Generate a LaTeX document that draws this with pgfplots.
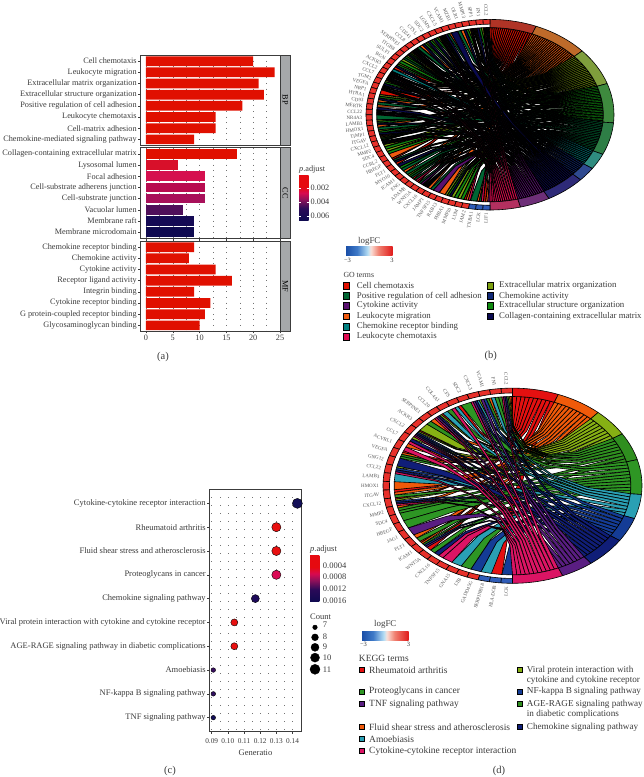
\documentclass[border=0pt]{standalone}
\usepackage{pgfplots}
\pgfplotsset{compat=1.18}
\usepackage{fontspec}
\setmainfont{Liberation Serif}

\definecolor{txt}{HTML}{3A3A3A}
\definecolor{frm}{HTML}{3C3C3C}
\definecolor{strip}{HTML}{A6A8AA}
% term colours: ribbons and outer ring, panel (b)
\definecolor{bt1}{HTML}{E01000}\definecolor{bt2}{HTML}{F05A10}\definecolor{bt3}{HTML}{7DA010}
\definecolor{bt4}{HTML}{108A10}\definecolor{bt5}{HTML}{006633}\definecolor{bt6}{HTML}{008080}
\definecolor{bt7}{HTML}{102878}\definecolor{bt8}{HTML}{0A0A50}\definecolor{bt9}{HTML}{5A1070}
\definecolor{bt10}{HTML}{E00A50}
\definecolor{br1}{HTML}{B03426}\definecolor{br2}{HTML}{BE6A2A}\definecolor{br3}{HTML}{7F9E3C}
\definecolor{br4}{HTML}{3E8A3E}\definecolor{br5}{HTML}{2E7E46}\definecolor{br6}{HTML}{2F8C80}
\definecolor{br7}{HTML}{2F4A90}\definecolor{br8}{HTML}{2E2A78}\definecolor{br9}{HTML}{6E2F78}
\definecolor{br10}{HTML}{B3305F}
% panel (d)
\definecolor{dt1}{HTML}{E51010}\definecolor{dt2}{HTML}{F05A0A}\definecolor{dt3}{HTML}{86B014}
\definecolor{dt4}{HTML}{2F8F1F}\definecolor{dt5}{HTML}{2E9624}\definecolor{dt6}{HTML}{2AA0B4}
\definecolor{dt7}{HTML}{143C96}\definecolor{dt8}{HTML}{101E78}\definecolor{dt9}{HTML}{5A1E82}
\definecolor{dt10}{HTML}{DC1464}
\definecolor{geneup}{HTML}{E8302A}\definecolor{genedn}{HTML}{2F5CB8}
% colour bars
\definecolor{pa1}{HTML}{0F0A50}\definecolor{pa2}{HTML}{2A0A58}\definecolor{pa3}{HTML}{90105A}
\definecolor{pa4}{HTML}{D80A50}\definecolor{pa5}{HTML}{E60A10}
\definecolor{fc1}{HTML}{1A4FA8}\definecolor{fc2}{HTML}{3F7AC8}\definecolor{fc3}{HTML}{B8E0F5}
\definecolor{fc4}{HTML}{FBE0D8}\definecolor{fc5}{HTML}{F08070}\definecolor{fc6}{HTML}{E01A1A}

% tikz fits the middle 25-75bp of a shading to the path
\pgfdeclareverticalshading{padj}{100bp}{color(0bp)=(pa1);color(25bp)=(pa1);color(38bp)=(pa2);
  color(48bp)=(pa3);color(55bp)=(pa4);color(62bp)=(pa5);color(100bp)=(pa5)}
\pgfdeclarehorizontalshading{logfc}{100bp}{color(0bp)=(fc1);color(25bp)=(fc1);color(37bp)=(fc2);
  color(48.5bp)=(fc3);color(51.5bp)=(fc4);color(60bp)=(fc5);color(75bp)=(fc6);color(100bp)=(fc6)}

\newcommand\fa{\fontsize{8.25}{9}\selectfont}
\newcommand\fb{\fontsize{8.85}{10}\selectfont}
\newcommand\fc{\fontsize{8.5}{9}\selectfont}
\newcommand\fd{\fontsize{9.5}{10}\selectfont}
\newcommand\fdr{\fontsize{9.15}{10}\selectfont}
\newcommand\fg{\fontsize{5}{6}\selectfont}
\newcommand\fcap{\fontsize{10.5}{12}\selectfont}

% gene/term links of the two chord diagrams
\def\countsB{20,24,21,22,18,9,8,17,13,13}
\def\genesB{CCL2/{1,2,5,6,7,9,10},FN1/{3,4,8},SPP1/{1,2,3,4,9,10},MMP13/{3,4,8},OLR1/{2,5},MZB1/{8},
VCAM1/{2,5,8},CXCL5/{1,2,6,7,9,10},LGMN/{3,4,8},SDC2/{3,4,8},CTSL/{3,4,8},CD241/{2,5},
CCL8/{1,2,6,7,9,10},SERPINE1/{1,3,4,8},ITGB8/{3,4,5},SULF1/{3,4},BGN/{3,4,8},ACKR3/{1,6},
CXCL2/{1,2,6,7,9,10},CCL7/{1,2,6,7,9,10},TGM2/{3,4,8},VEGFA/{1,2,5,9,10},NRP1/{1},HTRA1/{3,4,8},
CD93/{2,5},MERTK/{2,8},CCL22/{1,2,6,7,9,10},NR4A3/{5},LAMB3/{3,4,8},HMOX1/{2,5},TIMP1/{3,4,8},
ITGAV/{1,2,3,4},CXCL12/{1,2,6,7,9,10},MMP2/{3,4},SDC4/{3,4},CCRL2/{2},HBEGF/{1,5,8},FLT1/{1,8},
MYO10/{4,5},ICAM1/{2,5},ENG/{3,4,5},ADAM8/{1,5,10},WNT5A/{1,5,9},CXCL16/{1,2,6,7,9,10},JAMP1/{2,5},
TNFSF15/{9},RAB13/{2},PHBA1/{3,4,8},MMP10/{3,4},LUM/{3,4},JAM2/{1,2,10},TXBA1/{5},LCK/{2,5,10},
LIF1/{1,2,9}}
\def\countsD{10,10,8,8,10,7,7,9,7,11}
\def\genesD{CCL2/{1,2,3,4,8,9,10},FN1/{4,5,6},VCAM1/{2,4,7,9},CXCL3/{3,6,8,9,10},SDC2/{5},CFS/{1,6,10},
COL4A1/{4,6},CCL20/{1,3,8,9,10},SERPINE1/{2,4},ACKR3/{3},CXCL2/{1,3,7,8,9,10},CCL7/{3,8,10},
ACVRL1/{2,10},VEGFA/{1,2,4,5},GNG12/{8},CCL22/{3,7,8,10},LAMB3/{6},HMOX1/{2},ITGAV/{1,2,5},
CXCL12/{1,3,7,8,10},MMP2/{2,4,5},SDC4/{5},HBEGF/{5},JAG1/{9},FLT1/{2,5},ICAM1/{1,2,4,7,9},
WNT5A/{1,5},CXCL16/{8,10},TNFSF15/{10},GNA15/{6},LTB/{5},GADD45G/{7},SERPINB18/{6},HLA-DOB/{1},LCK/{7}}

\newcount\gi \newcount\gk \newcount\gm

% one ribbon: gene edge #1-#2, term edge #3-#4 (degrees clockwise from the top)
\newcommand\ribbon[5]{%
  \pgfmathsetmacro\Ax{\crx*sin(#1)}\pgfmathsetmacro\Ay{-\cry*cos(#1)}%
  \pgfmathsetmacro\Cx{\crx*sin(#2)}\pgfmathsetmacro\Cy{-\cry*cos(#2)}%
  \pgfmathsetmacro\Bx{\crx*sin(#3)}\pgfmathsetmacro\By{-\cry*cos(#3)}%
  \pgfmathsetmacro\Dx{\crx*sin(#4)}\pgfmathsetmacro\Dy{-\cry*cos(#4)}%
  \gdef\pts{}%
  \foreach \u/\v in {1/0,.64/.04,.36/.16,.16/.36,.04/.64,0/1}{%
    \pgfmathsetmacro\X{\cx+\u*\Ax+\v*\Bx}\pgfmathsetmacro\Y{\cy+\u*\Ay+\v*\By}%
    \xdef\pts{\pts(\X,\Y) }}%
  \foreach \u/\v in {0/1,.04/.64,.16/.36,.36/.16,.64/.04,1/0}{%
    \pgfmathsetmacro\X{\cx+\u*\Cx+\v*\Dx}\pgfmathsetmacro\Y{\cy+\u*\Cy+\v*\Dy}%
    \xdef\pts{\pts(\X,\Y) }}%
  \pgfmathsetmacro\X{\cx+\Ax}\pgfmathsetmacro\Y{\cy+\Ay}%
  \edef\tmp{\noexpand\addplot[draw=black,line width=\chordlw pt,line join=round,forget plot,fill=#5] coordinates {\pts(\X,\Y)};}\tmp}

% ring piece between angles #1,#2 and radii #3,#4
\newcommand\ringsector[6]{%
  \pgfmathtruncatemacro\nn{max(2,ceil(abs(#2-#1)/2.5))}%
  \gdef\pts{}%
  \foreach \k in {0,...,\nn}{%
    \pgfmathsetmacro\ang{#1+(#2-#1)*\k/\nn}%
    \pgfmathsetmacro\X{\cx+#4*\rx*sin(\ang)}\pgfmathsetmacro\Y{\cy-#4*\ry*cos(\ang)}%
    \xdef\pts{\pts(\X,\Y) }}%
  \foreach \k in {\nn,...,0}{%
    \pgfmathsetmacro\ang{#1+(#2-#1)*\k/\nn}%
    \pgfmathsetmacro\X{\cx+#3*\rx*sin(\ang)}\pgfmathsetmacro\Y{\cy-#3*\ry*cos(\ang)}%
    \xdef\pts{\pts(\X,\Y) }}%
  \pgfmathsetmacro\X{\cx+#4*\rx*sin(#1)}\pgfmathsetmacro\Y{\cy-#4*\ry*cos(#1)}%
  \edef\tmp{\noexpand\addplot[draw=black,line join=round,forget plot,line width=#6pt,fill=#5] coordinates {\pts(\X,\Y)};}\tmp}

% from the lists to ribbons, kept per term so that later terms lie on top
\newcommand\linkgenes[3]{%
  \pgfmathsetmacro\gw{180/#1}%
  \xdef\gw{\gw}%
  \gdef\cumul{0}%
  \foreach \cn [count=\t] in #2 {%
    \expandafter\xdef\csname tstart\t\endcsname{\cumul}%
    \expandafter\xdef\csname tcount\t\endcsname{\cn}%
    \expandafter\gdef\csname tused\t\endcsname{0}%
    \expandafter\gdef\csname rib\t\endcsname{}%
    \pgfmathsetmacro\nc{\cumul+\cn}\xdef\cumul{\nc}}%
  \pgfmathsetmacro\tw{180/\cumul}\xdef\tw{\tw}%
  \global\gi=0
  \foreach \name/\lst in #3 {%
    \global\gm=0
    \foreach \t in \lst {\global\advance\gm by 1 }%
    \global\gk=0
    \foreach \t in \lst {%
      \pgfmathsetmacro\aone{-(\the\gi+\the\gk/\the\gm)*\gw}%
      \pgfmathsetmacro\atwo{-(\the\gi+(\the\gk+1)/\the\gm)*\gw}%
      \edef\us{\csname tused\t\endcsname}\edef\ts{\csname tstart\t\endcsname}%
      \pgfmathsetmacro\bone{(\ts+\us)*\tw}\pgfmathsetmacro\btwo{(\ts+\us+1)*\tw}%
      \pgfmathtruncatemacro\nu{\us+1}\expandafter\xdef\csname tused\t\endcsname{\nu}%
      \edef\tmp{\noexpand\ribbon{\aone}{\atwo}{\bone}{\btwo}{\pref\t}}%
      \expandafter\xdef\csname rib\t\endcsname{\unexpanded\expandafter\expandafter\expandafter{\csname rib\t\endcsname}\unexpanded\expandafter{\tmp}}%
      \global\advance\gk by 1 }%
    \global\advance\gi by 1 }}

% ribbons, then outer ring, gene squares and gene names
\newcommand\drawchord[3]{%
  \linkgenes{#1}{#2}{#3}%
  \foreach \t in {1,...,10}{\csname rib\t\endcsname}%
  \foreach \t in {1,...,10}{%
    \edef\ts{\csname tstart\t\endcsname}\edef\tn{\csname tcount\t\endcsname}%
    \pgfmathsetmacro\tb{\ts*\tw}\pgfmathsetmacro\te{(\ts+\tn)*\tw}%
    \edef\tmp{\noexpand\ringsector{\tb}{\te}{\crr}{1}{\rpref\t}{0.6}}\tmp}%
  \global\gi=0
  \foreach \name/\lst in #3 {%
    \pgfmathsetmacro\aone{-\the\gi*\gw}\pgfmathsetmacro\atwo{-(\the\gi+1)*\gw}%
    \global\advance\gi by 1
    \ifnum\gi>\numexpr#1-3\relax\def\gc{genedn}\else\def\gc{geneup}\fi
    \edef\tmp{\noexpand\ringsector{\aone}{\atwo}{.95}{1}{\gc}{0.6}}\tmp
    \pgfmathsetmacro\amid{(\aone+\atwo)/2}%
    \pgfmathsetmacro\dxx{\rx*sin(\amid)}\pgfmathsetmacro\dyy{-\ry*cos(\amid)}%
    \pgfmathsetmacro\rot{atan2(\dyy,-\dxx)}%
    \pgfmathsetmacro\X{\cx+1.03*\dxx}\pgfmathsetmacro\Y{\cy+1.03*\dyy}%
    \edef\tmp{\noexpand\node[anchor=east,rotate=\rot,font=\noexpand\fg,text=txt!85,inner sep=0pt] at (\X,\Y) {\name};}\tmp}}

\newcommand\keybox[4]{\node[draw=black,fill=#4,line width=0.9pt,minimum size=#3pt,inner sep=0pt] at (#1,#2) {};}
\newcommand\lab[3]{\node[anchor=west,inner sep=0pt,text=txt] at (#1,#2) {#3};}

\pgfplotsset{
  facet/.style={
    scale only axis, width=140pt, height=90.5pt,
    xmin=-1.05, xmax=25.05, ymin=-0.55, ymax=7.55, y dir=reverse,
    xbar, bar shift=0pt, bar width=9.7pt,
    axis line style={draw=frm,line width=0.9pt},
    xtick={0,5,...,25}, minor x tick num=1, xmajorgrids, xminorgrids,
    grid style={draw=black!55,line width=0.45pt,dash pattern=on 0.6pt off 5pt},
    minor grid style={draw=black!55,line width=0.45pt,dash pattern=on 0.6pt off 5pt},
    ytick={0,...,7}, ytick pos=left, tick align=outside, major tick length=1.8pt,
    tick style={draw=frm,line width=0.5pt}, minor tick length=0pt,
    y tick label style={font=\fa,text=txt,inner sep=1.6pt},
    x tick label style={font=\fa,text=txt,inner sep=1.5pt},
    /pgf/number format/assume math mode=true,
  },
  notop/.style={xticklabels={}, x tick style={draw=none}, major x tick style={draw=none}},
}

\begin{document}
\begin{tikzpicture}
\path[use as bounding box] (0pt,0pt) rectangle (644pt,-777pt);

\begin{axis}[at={(0pt,0pt)}, anchor=north west, scale only axis, width=644pt, height=777pt,
  xmin=0, xmax=644, ymin=0, ymax=777, y dir=reverse, hide axis, clip=false]

% ---- panel (b)
\def\cx{490}\def\cy{114.7}\def\rx{124}\def\ry{95.3}\def\crr{.914}
\def\crx{113.3}\def\cry{87.1}\def\pref{bt}\def\rpref{br}\def\chordlw{0.85}
\drawchord{54}{\countsB}{\genesB}

% ---- panel (d)
\def\cx{512.5}\def\cy{485.7}\def\rx{129.5}\def\ry{97.6}\def\crr{.914}
\def\crx{118.4}\def\cry{89.2}\def\pref{dt}\def\rpref{dt}\def\chordlw{0.6}
\drawchord{35}{\countsD}{\genesD}

% ---- strips of panel (a)
\draw[fill=strip,draw=frm,line width=0.9pt] (280.3,55) rectangle (290,145.5);
\draw[fill=strip,draw=frm,line width=0.9pt] (280.3,147.8) rectangle (290,238.3);
\draw[fill=strip,draw=frm,line width=0.9pt] (280.3,241) rectangle (290,331.7);
\node[rotate=-90,font=\fa,text=black] at (285.2,100) {BP};
\node[rotate=-90,font=\fa,text=black] at (285.2,193) {CC};
\node[rotate=-90,font=\fa,text=black] at (285.2,286.5) {MF};

% ---- colour bars
\node[anchor=west,inner sep=0pt,font=\fa,text=txt] at (299,170) {\textit{p}.adjust};
\shade[shading=padj] (299,175) rectangle (308.5,220);
\draw[white,line width=0.4pt] (299,188.3) -- (301,188.3) (306.5,188.3) -- (308.5,188.3);
\draw[white,line width=0.4pt] (299,201.7) -- (301,201.7) (306.5,201.7) -- (308.5,201.7);
\draw[white,line width=0.4pt] (299,215.7) -- (301,215.7) (306.5,215.7) -- (308.5,215.7);
\node[anchor=west,inner sep=0pt,font=\fa,text=txt] at (310.5,188.3) {0.002};
\node[anchor=west,inner sep=0pt,font=\fa,text=txt] at (310.5,201.7) {0.004};
\node[anchor=west,inner sep=0pt,font=\fa,text=txt] at (310.5,215.7) {0.006};

\node[anchor=west,inner sep=0pt,font=\fc,text=txt] at (310,549) {\textit{p}.adjust};
\shade[shading=padj] (310,555) rectangle (319.3,601.7);
\node[anchor=west,inner sep=0pt,font=\fc,text=txt] at (322.7,565.7) {0.0004};
\node[anchor=west,inner sep=0pt,font=\fc,text=txt] at (322.7,577) {0.0008};
\node[anchor=west,inner sep=0pt,font=\fc,text=txt] at (322.7,588.7) {0.0012};
\node[anchor=west,inner sep=0pt,font=\fc,text=txt] at (322.7,600.3) {0.0016};

% ---- Count key of panel (c)
\node[anchor=west,inner sep=0pt,font=\fc,text=txt] at (310,616.5) {Count};
\addplot[only marks,mark=*,mark size=2.3,mark options={fill=black,draw=none},forget plot] coordinates {(315,627.3)};
\addplot[only marks,mark=*,mark size=3.4,mark options={fill=black,draw=none},forget plot] coordinates {(315,637.3)};
\addplot[only marks,mark=*,mark size=4,mark options={fill=black,draw=none},forget plot] coordinates {(315,647.3)};
\addplot[only marks,mark=*,mark size=4.5,mark options={fill=black,draw=none},forget plot] coordinates {(315,657.6)};
\addplot[only marks,mark=*,mark size=5,mark options={fill=black,draw=none},forget plot] coordinates {(315,669.3)};
\node[anchor=west,inner sep=0pt,font=\fc,text=txt] at (322.7,625) {7};
\node[anchor=west,inner sep=0pt,font=\fc,text=txt] at (322.7,637) {8};
\node[anchor=west,inner sep=0pt,font=\fc,text=txt] at (322.7,647) {9};
\node[anchor=west,inner sep=0pt,font=\fc,text=txt] at (322.7,658) {10};
\node[anchor=west,inner sep=0pt,font=\fc,text=txt] at (322.7,670) {11};

% ---- legend of panel (b)
\node[font=\fb,text=txt] at (369.3,241) {logFC};
\shade[shading=logfc] (346,246.7) rectangle (392.7,255.7);
\node[text=txt] at (347.5,260.7) {\fontsize{6.5}{7}\selectfont −3};
\node[text=txt] at (392,260.7) {\fontsize{6.5}{7}\selectfont 3};
\begin{scope}[font=\fb]
\lab{343.3}{275}{\fontsize{7.8}{9}\selectfont GO terms}
\keybox{346.2}{285.7}{6.5}{bt1}\lab{356.7}{285.7}{Cell chemotaxis}
\keybox{346.2}{296}{6.5}{bt5}\lab{356.7}{296}{Positive regulation of cell adhesion}
\keybox{346.2}{305.7}{6.5}{bt9}\lab{356.7}{305.7}{Cytokine activity}
\keybox{346.2}{316.3}{6.5}{bt2}\lab{356.7}{316.3}{Leukocyte migration}
\keybox{346.2}{326.7}{6.5}{bt6}\lab{356.7}{326.7}{Chemokine receptor binding}
\keybox{346.2}{336.7}{6.5}{bt10}\lab{356.7}{336.7}{Leukocyte chemotaxis}
\keybox{490.3}{285.7}{6.5}{bt3}\lab{499}{285.7}{Extracellular matrix organization}
\keybox{490.3}{296}{6.5}{bt7}\lab{499}{296}{Chemokine activity}
\keybox{490.3}{305.7}{6.5}{bt4}\lab{499}{305.7}{Extracellular structure organization}
\keybox{490.3}{316.3}{6.5}{bt8}\lab{499}{316.3}{\fontsize{8.75}{10}\selectfont Collagen-containing extracellular matrix}
\end{scope}

% ---- legend of panel (d)
\node[font=\fb,text=txt] at (385.3,624) {logFC};
\shade[shading=logfc] (362,631) rectangle (408.7,640);
\node[text=txt] at (363.5,644.3) {\fontsize{6.5}{7}\selectfont −3};
\node[text=txt] at (408.5,644.3) {\fontsize{6.5}{7}\selectfont 3};
\begin{scope}[font=\fd]
\lab{358.7}{658.3}{KEGG terms}
\keybox{361.7}{670}{5}{dt1}\lab{369}{670}{Rheumatoid arthritis}
\keybox{361.7}{691.7}{5}{dt5}\lab{369}{691.7}{Proteoglycans in cancer}
\keybox{361.7}{704.3}{5}{dt9}\lab{369}{704.3}{TNF signaling pathway}
\keybox{361.7}{727}{5}{dt2}\lab{369}{727}{Fluid shear stress and atherosclerosis}
\keybox{361.7}{739}{5}{dt6}\lab{369}{739}{Amoebiasis}
\keybox{361.7}{751.3}{5}{dt10}\lab{369}{751.3}{Cytokine-cytokine receptor interaction}
\end{scope}
\begin{scope}[font=\fdr]
\keybox{520}{670}{5}{dt3}\lab{526.7}{670}{Viral protein interaction with}
\lab{526.7}{680.3}{cytokine and cytokine receptor}
\keybox{520}{691.7}{5}{dt7}\lab{526.7}{691.7}{NF-kappa B signaling pathway}
\keybox{520}{704.3}{5}{dt4}\lab{526.7}{704.3}{AGE-RAGE signaling pathway}
\lab{526.7}{714.3}{in diabetic complications}
\keybox{520}{727}{5}{dt8}\lab{526.7}{727}{Chemokine signaling pathway}
\end{scope}

% ---- captions
\node[font=\fcap,text=txt] at (163,356.7) {(a)};
\node[font=\fcap,text=txt] at (490.7,356.2) {(b)};
\node[font=\fcap,text=txt] at (170,770.5) {(c)};
\node[font=\fcap,text=txt] at (499,771) {(d)};
\end{axis}

% ---- panel (a): bars
\begin{axis}[facet, notop, at={(140.3pt,-55pt)}, anchor=north west,
  yticklabels={Cell chemotaxis,Leukocyte migration,Extracellular matrix organization,Extracellular structure organization,Positive regulation of cell adhesion,Leukocyte chemotaxis,Cell-matrix adhesion,Chemokine-mediated signaling pathway}]
\addplot[fill=bt1,draw=none] coordinates {(20,0) (24,1) (21,2) (22,3) (18,4) (13,5) (13,6) (9,7)};
\end{axis}

\begin{axis}[facet, notop, at={(140.3pt,-147.8pt)}, anchor=north west,
  yticklabels={Collagen-containing extracellular matrix,Lysosomal lumen,Focal adhesion,Cell-substrate adherens junction,Cell-substrate junction,Vacuolar lumen,Membrane raft,Membrane microdomain}]
\addplot[fill=bt1,draw=none] coordinates {(17,0)};
\addplot[fill={rgb,255:red,216;green,16;blue,42},draw=none] coordinates {(6,1)};
\addplot[fill={rgb,255:red,213;green,16;blue,79},draw=none] coordinates {(11,2)};
\addplot[fill={rgb,255:red,184;green,12;blue,80},draw=none] coordinates {(11,3)};
\addplot[fill={rgb,255:red,168;green,16;blue,90},draw=none] coordinates {(11,4)};
\addplot[fill={rgb,255:red,79;green,15;blue,90},draw=none] coordinates {(7,5)};
\addplot[fill={rgb,255:red,21;green,10;blue,85},draw=none] coordinates {(9,6)};
\addplot[fill={rgb,255:red,15;green,10;blue,80},draw=none] coordinates {(9,7)};
\end{axis}

\begin{axis}[facet, at={(140.3pt,-241pt)}, anchor=north west,
  yticklabels={Chemokine receptor binding,Chemokine activity,Cytokine activity,Receptor ligand activity,Integrin binding,Cytokine receptor binding,G protein-coupled receptor binding,Glycosaminoglycan binding}]
\addplot[fill=bt1,draw=none] coordinates {(9,0) (8,1) (13,2) (16,3) (9,4) (12,5) (11,6) (10,7)};
\end{axis}

% ---- panel (c): dots
\begin{axis}[scale only axis, width=92.4pt, height=242.4pt, at={(209.3pt,-489.3pt)}, anchor=north west,
  xmin=0.08852, xmax=0.14568, ymin=-0.59, ymax=9.59, y dir=reverse,
  axis line style={draw=frm,line width=0.9pt},
  xtick={0.09,0.10,0.11,0.12,0.13,0.14}, xticklabels={0.09,0.10,0.11,0.12,0.13,0.14},
  minor x tick num=1, xmajorgrids, xminorgrids,
  grid style={draw=black!55,line width=0.45pt,dash pattern=on 0.6pt off 7.4pt},
  minor grid style={draw=black!55,line width=0.45pt,dash pattern=on 0.6pt off 7.4pt},
  ytick={0,...,9}, ytick pos=left, xtick pos=bottom, tick align=outside, major tick length=1.8pt, minor tick length=0pt,
  tick style={draw=frm,line width=0.5pt},
  y tick label style={font=\fc,text=txt,inner sep=1.6pt},
  x tick label style={font=\fontsize{7.3}{8}\selectfont,text=txt,inner sep=1.5pt,yshift=-3pt},
  xlabel={Generatio}, xlabel style={font=\fc,text=txt,inner sep=0pt,yshift=-5pt},
  /pgf/number format/assume math mode=true,
  yticklabels={Cytokine-cytokine receptor interaction,Rheumatoid arthritis,Fluid shear stress and atherosclerosis,Proteoglycans in cancer,Chemokine signaling pathway,Viral protein interaction with cytokine and cytokine receptor,AGE-RAGE signaling pathway in diabetic complications,Amoebiasis,NF-kappa B signaling pathway,TNF signaling pathway},
  clip=false]
\addplot[only marks,mark=*,mark size=5,mark options={fill={rgb,255:red,20;green,16;blue,88},draw=none}] coordinates {(0.143,0)};
\addplot[only marks,mark=*,mark size=4.6,mark options={fill={rgb,255:red,232;green,16;blue,16},draw=none}] coordinates {(0.130,1) (0.130,2)};
\addplot[only marks,mark=*,mark size=4.6,mark options={fill={rgb,255:red,218;green,10;blue,85},draw=none}] coordinates {(0.130,3)};
\addplot[only marks,mark=*,mark size=4,mark options={fill={rgb,255:red,30;green,10;blue,90},draw=none}] coordinates {(0.117,4)};
\addplot[only marks,mark=*,mark size=3.5,mark options={fill={rgb,255:red,232;green,16;blue,16},draw=none}] coordinates {(0.104,5) (0.104,6)};
\addplot[only marks,mark=*,mark size=2.3,mark options={fill={rgb,255:red,58;green,15;blue,96},draw=none}] coordinates {(0.091,7)};
\addplot[only marks,mark=*,mark size=2.3,mark options={fill={rgb,255:red,48;green,16;blue,96},draw=none}] coordinates {(0.091,8)};
\addplot[only marks,mark=*,mark size=2.3,mark options={fill={rgb,255:red,21;green,16;blue,90},draw=none}] coordinates {(0.091,9)};
\end{axis}
\end{tikzpicture}
\end{document}
